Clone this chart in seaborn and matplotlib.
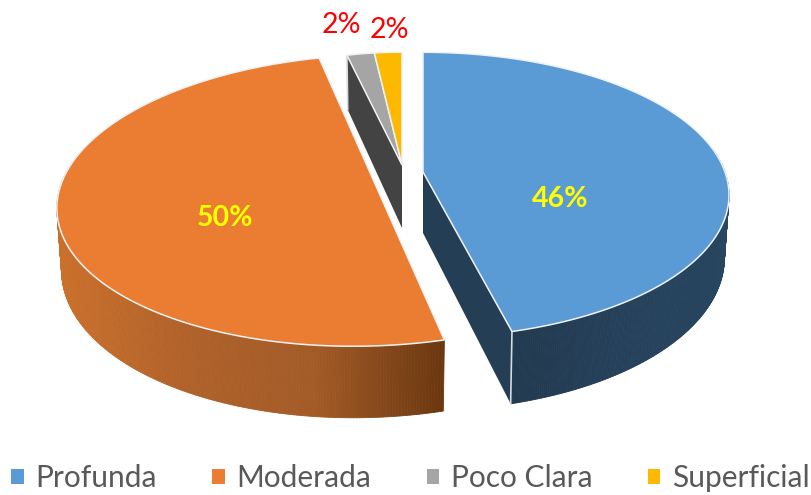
import matplotlib
matplotlib.use("Agg")
import matplotlib.pyplot as plt
import numpy as np
import seaborn as sns
from matplotlib.collections import PolyCollection
from matplotlib.colors import LinearSegmentedColormap
from matplotlib.patches import Patch

categories = ["Profunda", "Moderada", "Poco Clara", "Superficial"]
values = [46, 50, 2, 2]
value_labels = ["46%", "50%", "2%", "2%"]

sns.set_theme(style="white")
plt.rcParams["font.family"] = ["Lato", "DejaVu Sans"]

colors = sns.color_palette(["#5b9bd5", "#ea7d31", "#a5a5a5", "#fdb900"])

# per slice projection: apex x/y, radii, perspective, shear, depth
slices = [
    dict(x=423, y=172, a=302, b=139, k=0.161, s=0, d=61),
    dict(x=372, y=177, a=308, b=142, k=0.161, s=16, d=60),
    dict(x=402, y=165, a=256, b=131, k=0.161, s=0, d=63),
    dict(x=402, y=165, a=256, b=131, k=0.161, s=0, d=63),
]
label_pos = [(560, 199, "#ffff00", "bold"), (225, 218, "#ffff00", "bold"),
             (341, 25, "#ff0000", "normal"), (389, 30, "#ff0000", "normal")]
wall_cmaps = [
    LinearSegmentedColormap.from_list("b", ["#223a4f", "#25405a", "#28465f"]),
    LinearSegmentedColormap.from_list("o", ["#cb702c", "#b0622a", "#a35b27", "#6c3810"]),
]


def proj(theta, p, r=1.0):
    u, v = r * np.sin(theta), r * np.cos(theta)
    w = 1 + p["k"] * v
    return p["x"] + (p["a"] * u + p["s"] * v) / w, p["y"] - p["b"] * v / w, p["d"] / w


def lower(x, y, d, p):
    # bottom rim sits a little closer to the apex than the top rim
    return p["x"] + 0.985 * (x - p["x"]), y + d


def radial_wall(ax, theta, p, color):
    x0, y0, d0 = proj(theta, p, 0)
    x1, y1, d1 = proj(theta, p)
    bx0, by0 = lower(x0, y0, d0, p)
    bx1, by1 = lower(x1, y1, d1, p)
    ax.fill([x0, x1, bx1, bx0], [y0, y1, by1, by0], color=color, lw=0, zorder=2)
    ax.plot([x1, bx1], [y1, by1], color="#d5dbe0", lw=1.2, zorder=2.5)


def outer_wall(ax, t0, t1, p, cmap):
    tt = np.linspace(t0, t1, 240)
    x, y, d = proj(tt, p)
    bx, by = lower(x, y, d, p)
    polys = [[(x[i], y[i]), (x[i + 1], y[i + 1]), (bx[i + 1], by[i + 1]), (bx[i], by[i])]
             for i in range(len(tt) - 1)]
    pos = (x[:-1] - x.min()) / (x.max() - x.min())
    cols = cmap(pos)
    ax.add_collection(PolyCollection(polys, facecolors=cols, edgecolors=cols, linewidths=0.6, zorder=2))


def top_face(ax, t0, t1, p, color):
    tt = np.linspace(t0, t1, 200)
    x, y, _ = proj(tt, p)
    cx, cy, _ = proj(0.0, p, 0)
    ax.fill(np.r_[cx, x], np.r_[cy, y], facecolor=color, edgecolor="#eef2f5", lw=1.1, zorder=3)


fig = plt.figure(figsize=(8.12, 4.95), dpi=100)
ax = fig.add_axes([0, 0, 1, 1])
ax.set_xlim(0, 812)
ax.set_ylim(495, 0)
ax.axis("off")

edges = np.r_[0, np.cumsum(values)] / np.sum(values) * 2 * np.pi

# walls first, top faces over them
radial_wall(ax, edges[2], slices[2], "#434343")
outer_wall(ax, edges[1], np.radians(280), slices[1], wall_cmaps[1])
radial_wall(ax, edges[1], slices[0], "#243f55")
outer_wall(ax, np.radians(80), edges[1], slices[0], wall_cmaps[0])

for i in range(len(values)):
    top_face(ax, edges[i], edges[i + 1], slices[i], colors[i])

for txt, (x, y, col, weight) in zip(value_labels, label_pos):
    ax.text(x, y, txt, color=col, fontweight=weight, fontsize=20.5, ha="center", va="center", zorder=5)

handles = [Patch(facecolor=c, edgecolor="none") for c in colors]
ax.legend(handles, categories, loc="lower center", bbox_to_anchor=(0.5055, -0.03), ncol=4, frameon=False,
          fontsize=21.5, labelcolor="#595959", handlelength=0.41, handleheight=0.41,
          handletextpad=0.4, columnspacing=1.85, borderpad=0.1)

fig.savefig("out.png", dpi=100)
